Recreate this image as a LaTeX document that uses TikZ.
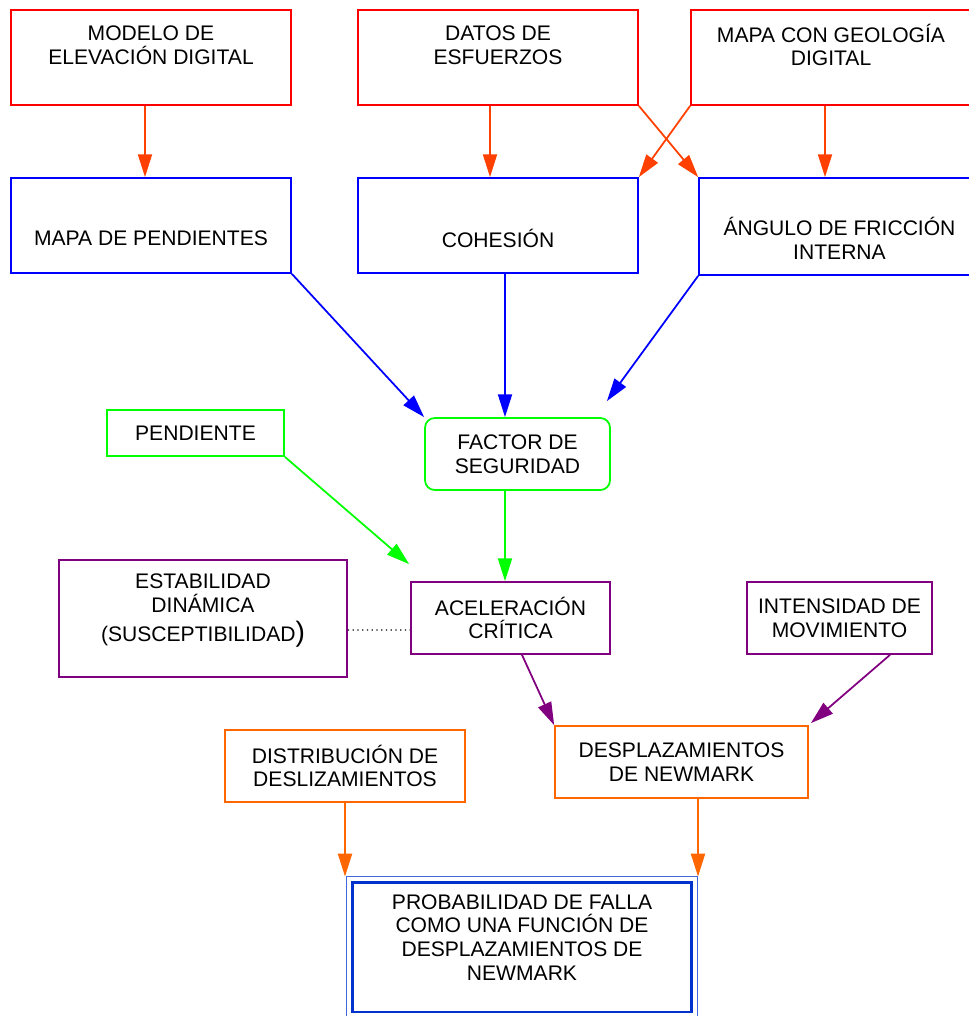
\documentclass[tikz,border=0pt]{standalone}
\usepackage{fontspec}
\setmainfont{Liberation Sans}
\usetikzlibrary{calc, arrows.meta}

\definecolor{boxred}{RGB}{255,0,0}
\definecolor{arrred}{RGB}{255,64,0}
\definecolor{boxblue}{RGB}{0,0,255}
\definecolor{boxgreen}{RGB}{0,255,0}
\definecolor{boxpurple}{RGB}{128,0,128}
\definecolor{boxorange}{RGB}{255,102,0}
\definecolor{dblue}{RGB}{0,51,204}

\begin{document}
\begin{tikzpicture}[x=0.02cm, y=-0.02cm, line width=1pt,
  txt/.style={font=\fontsize{12}{13.6}\selectfont, align=center, inner sep=0pt},
  redbox/.style={draw=boxred, txt},
  bluebox/.style={draw=boxblue, txt},
  greenbox/.style={draw=boxgreen, txt},
  purplebox/.style={draw=boxpurple, txt},
  orangebox/.style={draw=boxorange, txt},
  dbox/.style={draw=dblue, line width=1.7pt, txt},
  tip/.style={-{Triangle[length=13pt, width=8pt]}},
  redarr/.style={draw=arrred, tip},
  bluearr/.style={draw=boxblue, tip},
  greenarr/.style={draw=boxgreen, tip},
  purparr/.style={draw=boxpurple, tip},
  orangearr/.style={draw=boxorange, tip}]
  \useasboundingbox (0,0) rectangle (968,1016);

  % datos de entrada
  \node[redbox, minimum width=5.6cm, minimum height=1.9cm] (dem) at (151,57.5) {};
  \node[txt] (demT) at (151,45) {MODELO DE\\ELEVACIÓN DIGITAL};
  \node[redbox, minimum width=5.6cm, minimum height=1.9cm] (esf) at (498,57.5) {};
  \node[txt] (esfT) at (498,45) {DATOS DE\\ESFUERZOS};
  \node[redbox, minimum width=5.6cm, minimum height=1.9cm] (geo) at (831,57.5) {};
  \node[txt] (geoT) at (831,45) {MAPA CON GEOLOGÍA\\DIGITAL};

  % parametros
  \node[bluebox, minimum width=5.6cm, minimum height=1.9cm] (pend) at (151,225.5) {};
  \node[txt] (pendT) at (151,238) {MAPA DE PENDIENTES};
  \node[bluebox, minimum width=5.6cm, minimum height=1.9cm] (coh) at (498,225.5) {};
  \node[txt] (cohT) at (498,238) {COHESIÓN};
  \node[bluebox, minimum width=5.62cm, minimum height=1.94cm] (ang) at (839.5,226.5) {};
  \node[txt] (angT) at (839.5,238) {ÁNGULO DE FRICCIÓN\\INTERNA};

  \node[greenbox, rounded corners=5.5pt, minimum width=3.7cm, minimum height=1.44cm] (fs) at (517.5,454) {FACTOR DE\\SEGURIDAD};
  \node[greenbox, minimum width=3.54cm, minimum height=0.92cm] (pte) at (195.5,433) {PENDIENTE};

  \node[purplebox, minimum width=5.76cm, minimum height=2.34cm] (est) at (203,618.5) {};
  \node[txt] (estT) at (203,611) {ESTABILIDAD\\DINÁMICA\\[3pt](SUSCEPTIBILIDAD{\fontsize{16}{16}\selectfont)}};
  \node[purplebox, minimum width=3.98cm, minimum height=1.44cm] (acel) at (510.5,618) {ACELERACIÓN\\CRÍTICA};
  \node[purplebox, minimum width=3.7cm, minimum height=1.44cm] (int) at (839.5,618) {INTENSIDAD DE\\MOVIMIENTO};

  \node[orangebox, minimum width=5.06cm, minimum height=1.44cm] (desp) at (681.5,762) {DESPLAZAMIENTOS\\DE NEWMARK};
  \node[orangebox, minimum width=4.8cm, minimum height=1.44cm] (dist) at (345,766) {DISTRIBUCIÓN DE\\DESLIZAMIENTOS};

  \node[dbox, minimum width=6.8cm, minimum height=2.6cm] (prob) at (522,947) {};
  \draw[dblue!75, line width=0.6pt] ([shift={(-4,-4)}]prob.north west) rectangle ([shift={(4,4)}]prob.south east);
  \node[txt] (probT) at (522,937.5) {PROBABILIDAD DE FALLA\\COMO UNA FUNCIÓN DE\\DESPLAZAMIENTOS DE\\NEWMARK};

  % conexiones
  \draw[redarr] ([shift={(-6,0)}]dem.south) -- ([shift={(-6,0)}]pend.north);
  \draw[redarr] ([shift={(-8,0)}]esf.south) -- ([shift={(-8,0)}]coh.north);
  \draw[redarr] ([shift={(-6,0)}]geo.south) -- ([shift={(-14.5,0)}]ang.north);
  \draw[redarr] (esf.south east) -- (ang.north west);
  \draw[redarr] (geo.south west) -- (coh.north east);

  \draw[bluearr] (pend.south east) -- (fs.north west);
  \draw[bluearr] ([shift={(7,0)}]coh.south) -- ([shift={(-12.5,0)}]fs.north);
  \draw[bluearr] (ang.south west) -- ([shift={(-4,-16)}]fs.north east);

  \draw[greenarr] (pte.south east) -- ([shift={(-1,-17)}]acel.north west);
  \draw[greenarr] ([shift={(-12.5,0)}]fs.south) -- ([shift={(-5.5,0)}]acel.north);

  \draw[dotted, line width=0.7pt] ([shift={(0,11.5)}]est.east) -- ([shift={(0,12)}]acel.west);

  \draw[purparr] ([shift={(11.5,0)}]acel.south) -- (desp.north west);
  \draw[purparr] ([shift={(50.5,0)}]int.south) -- ([shift={(2,-2)}]desp.north east);

  \draw[orangearr] (dist.south) -- ([shift={(0,-4)}]dist.south |- prob.north);
  \draw[orangearr] ([shift={(16.5,0)}]desp.south) -- ([shift={(16.5,-4)}]desp.south |- prob.north);
\end{tikzpicture}
\end{document}
